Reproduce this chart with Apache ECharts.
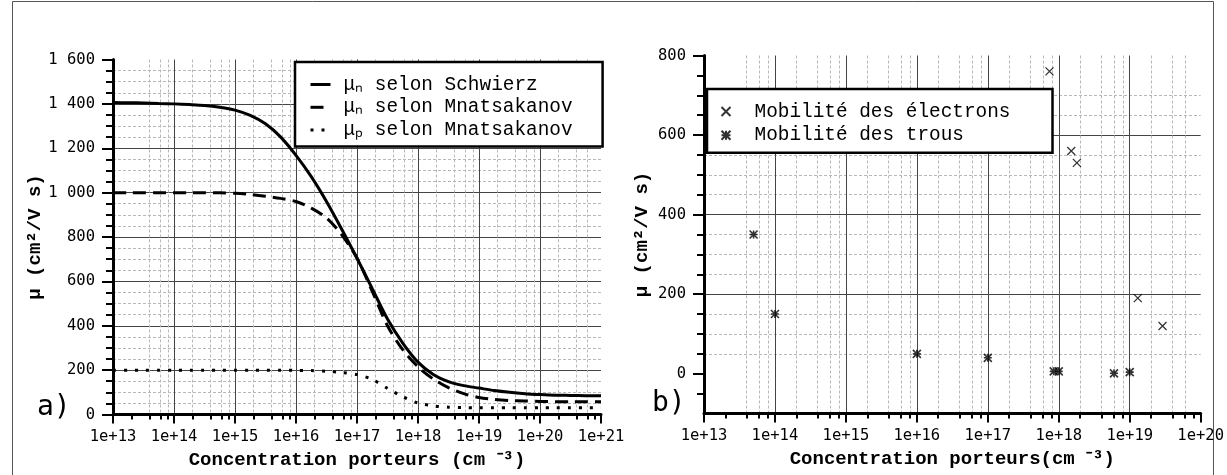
<!DOCTYPE html>
<html>
<head>
<meta charset="utf-8">
<script src="https://cdn.jsdelivr.net/npm/echarts@6/dist/echarts.min.js"></script>
<style>
html,body{margin:0;padding:0;background:#fff;}
#chart{width:1227px;height:475px;}
</style>
</head>
<body>
<div id="chart"></div>
<script>
// ---------- Panel a) : model curves (values read every quarter decade) ----------
const concA = [1e13, 1.78e13, 3.16e13, 5.62e13, 1e14, 1.78e14, 3.16e14, 5.62e14,
               1e15, 1.78e15, 3.16e15, 5.62e15, 1e16, 1.78e16, 3.16e16, 5.62e16,
               1e17, 1.78e17, 3.16e17, 5.62e17, 1e18, 1.78e18, 3.16e18, 5.62e18,
               1e19, 1.78e19, 3.16e19, 5.62e19, 1e20, 1.78e20, 3.16e20, 5.62e20, 1e21];
const muSchwierz = [1406, 1405, 1404, 1402, 1400, 1397, 1393, 1385,
                    1372, 1348, 1310, 1250, 1168, 1072, 960, 835,
                    704, 567, 430, 322, 236, 180, 148, 130,
                    119, 108, 100, 94, 90, 87, 86, 85, 84];
const muMnatN = [1000, 1000, 1000, 1000, 1000, 1000, 1000, 999,
                 997, 992, 984, 974, 960, 930, 886, 810,
                 705, 555, 400, 292, 215, 160, 121, 94,
                 77, 68, 63, 61, 59, 58, 58, 58, 58];
const muMnatP = [200, 200, 200, 200, 200, 200, 200, 200,
                 200, 200, 200, 200, 199, 198, 195, 189,
                 180, 158, 118, 80, 52, 39, 33, 31,
                 30, 30, 30, 30, 30, 30, 30, 30, 30];
const seriesNamesA = ['μₙ selon Schwierz', 'μₙ selon Mnatsakanov', 'μₚ selon Mnatsakanov'];

// ---------- Panel b) : measurements ----------
const concElectrons = [7.4e17, 1.5e18, 1.8e18, 1.3e19, 2.9e19];
const muElectrons   = [760, 560, 530, 190, 120];
const concHoles = [5e13, 1e14, 1e16, 1e17, 8.5e17, 1e18, 6e18, 1e19];
const muHoles   = [350, 150, 50, 40, 6, 6, 1, 4];
const seriesNamesB = ['Mobilité des électrons', 'Mobilité des trous'];

// ---------- Axis ticks ----------
const decadesA = [1e13, 1e14, 1e15, 1e16, 1e17, 1e18, 1e19, 1e20, 1e21];
const decadesB = [1e13, 1e14, 1e15, 1e16, 1e17, 1e18, 1e19, 1e20];
const minorMult = [2, 4, 6, 8];
const yTicksB = [0, 200, 400, 600, 800];
const yMinorB = [-50, 50, 100, 150, 250, 300, 350, 450, 500, 550, 650, 700, 750];

const xTitleA = 'Concentration porteurs (cm ⁻³)';
const xTitleB = 'Concentration porteurs(cm ⁻³)';
const yTitle = 'μ (cm²/V s)';

function minorOf(dec) {
  const out = [];
  for (let i = 0; i < dec.length - 1; i++) minorMult.forEach(m => out.push(dec[i] * m));
  return out;
}
// keep the top decade strictly inside the axis extent despite float rounding of log10
const inside = dec => dec.map((d, i) => i === dec.length - 1 ? d * 0.9999999 : d);
const pair = (xs, ys) => xs.map((x, i) => [x, ys[i]]);

const TICKFONT = 'DejaVu Sans Mono';
const TITLEFONT = 'Liberation Mono';
const majorGrid = {show: true, showMinLine: false, showMaxLine: false, lineStyle: {color: '#444', width: 1}};
const minorGrid = {show: true, showMinLine: false, showMaxLine: false, lineStyle: {color: '#b8b8b8', width: 1, type: [3, 2]}};
const axisLineStyle = {show: true, onZero: false, lineStyle: {color: '#000', width: 3}};
const tickLabel = {color: '#000', fontFamily: TICKFONT, fontSize: 15.5};
const nameStyle = {color: '#000', fontFamily: TITLEFONT, fontWeight: 'bold', fontSize: 19};
const logFmt = v => '1e+' + Math.round(Math.log10(v));
const spaceFmt = v => v >= 1000 ? Math.floor(v / 1000) + ' ' + String(v % 1000).padStart(3, '0') : String(v);

function xMajor(grid, dec, title) {
  const ticks = inside(dec);
  return {
    gridIndex: grid, type: 'log', logBase: 10, min: dec[0], max: dec[dec.length - 1],
    position: 'bottom',
    axisLine: axisLineStyle,
    axisTick: {show: true, customValues: ticks, length: 9, lineStyle: {color: '#000', width: 2}},
    axisLabel: {customValues: ticks, formatter: logFmt, margin: 14, showMaxLabel: true, showMinLabel: true, hideOverlap: false, ...tickLabel},
    splitLine: majorGrid,
    name: title, nameLocation: 'middle', nameGap: 36, nameTextStyle: nameStyle
  };
}
function xMinor(grid, dec) {
  return {
    gridIndex: grid, type: 'log', logBase: 10, min: dec[0], max: dec[dec.length - 1],
    position: 'bottom',
    axisLine: {show: false, onZero: false},
    axisTick: {show: true, customValues: minorOf(dec), length: 5, lineStyle: {color: '#000', width: 2}},
    axisLabel: {show: false},
    splitLine: minorGrid
  };
}

const option = {
  animation: false,
  backgroundColor: '#fff',
  graphic: [
    {type: 'rect', shape: {x: 12.5, y: 1.5, width: 1201, height: 480}, style: {fill: 'none', stroke: '#555', lineWidth: 1}, silent: true},
    {type: 'text', left: 37, top: 394, style: {text: 'a)', font: '28px "DejaVu Sans Mono"', fill: '#000'}},
    {type: 'text', left: 652, top: 390, style: {text: 'b)', font: '28px "DejaVu Sans Mono"', fill: '#000'}}
  ],
  grid: [
    {left: 113, top: 59.5, width: 488, height: 355},
    {left: 704, top: 55.5, width: 499, height: 358}
  ],
  xAxis: [
    xMajor(0, decadesA, xTitleA),
    xMinor(0, decadesA),
    xMajor(1, decadesB, xTitleB),
    xMinor(1, decadesB)
  ],
  yAxis: [
    {
      gridIndex: 0, type: 'value', min: 0, max: 1600, interval: 200, position: 'left',
      axisLine: axisLineStyle,
      axisTick: {show: true, length: 11, lineStyle: {color: '#000', width: 2}},
      minorTick: {show: true, splitNumber: 4, length: 7, lineStyle: {color: '#000', width: 2}},
      axisLabel: {formatter: spaceFmt, margin: 18, ...tickLabel},
      splitLine: majorGrid,
      minorSplitLine: {show: true, lineStyle: {color: '#b8b8b8', width: 1, type: [3, 2]}},
      name: yTitle, nameLocation: 'middle', nameGap: 68, nameTextStyle: nameStyle
    },
    {
      gridIndex: 1, type: 'value', min: -100, max: 800, position: 'left',
      axisLine: axisLineStyle,
      axisTick: {show: true, customValues: yTicksB, length: 11, lineStyle: {color: '#000', width: 2}},
      axisLabel: {customValues: yTicksB, margin: 18, ...tickLabel},
      splitLine: majorGrid,
      name: yTitle, nameLocation: 'middle', nameGap: 52, nameTextStyle: nameStyle
    },
    {
      gridIndex: 1, type: 'value', min: -100, max: 800, position: 'left',
      axisLine: {show: false, onZero: false},
      axisTick: {show: true, customValues: yMinorB, length: 7, lineStyle: {color: '#000', width: 2}},
      axisLabel: {show: false},
      splitLine: minorGrid
    }
  ],
  legend: [
    {
      data: seriesNamesA, orient: 'vertical', left: 295, top: 62,
      backgroundColor: '#fff', borderColor: '#000', borderWidth: 2.5, borderRadius: 0,
      padding: [13, 30, 7, 14], itemWidth: 20, itemHeight: 14, itemGap: 3.8,
      itemStyle: {opacity: 0},
      lineStyle: {width: 3},
      textStyle: {color: '#000', fontFamily: TITLEFONT, fontSize: 19.4, padding: [0, 0, 0, 8]}
    },
    {
      data: seriesNamesB, orient: 'vertical', left: 707, top: 89,
      backgroundColor: '#fff', borderColor: '#000', borderWidth: 2.5, borderRadius: 0,
      padding: [13, 42, 8, 12], itemWidth: 9, itemHeight: 9, itemGap: 4.8,
      textStyle: {color: '#000', fontFamily: TITLEFONT, fontSize: 19.4, padding: [0, 0, 0, 19]}
    }
  ],
  series: [
    {name: seriesNamesA[0], type: 'line', xAxisIndex: 0, yAxisIndex: 0, data: pair(concA, muSchwierz),
     symbol: 'none', smooth: 0.3, lineStyle: {color: '#000', width: 3, type: 'solid'}, itemStyle: {color: '#000'}, z: 3},
    {name: seriesNamesA[1], type: 'line', xAxisIndex: 0, yAxisIndex: 0, data: pair(concA, muMnatN),
     symbol: 'none', smooth: 0.3, lineStyle: {color: '#000', width: 3, type: [13, 7]}, itemStyle: {color: '#000'}, z: 4},
    {name: seriesNamesA[2], type: 'line', xAxisIndex: 0, yAxisIndex: 0, data: pair(concA, muMnatP),
     symbol: 'none', smooth: 0.3, lineStyle: {color: '#000', width: 3, type: [3, 8]}, itemStyle: {color: '#000'}, z: 4},
    {name: seriesNamesB[0], type: 'scatter', xAxisIndex: 2, yAxisIndex: 1, data: pair(concElectrons, muElectrons),
     symbol: 'path://M0,0L10,10M10,0L0,10', symbolSize: 8,
     itemStyle: {color: 'none', borderColor: '#000', borderWidth: 1.3}},
    {name: seriesNamesB[1], type: 'scatter', xAxisIndex: 2, yAxisIndex: 1, data: pair(concHoles, muHoles),
     symbol: 'path://M0,0L10,10M10,0L0,10M5,0L5,10M0,5L10,5', symbolSize: 8,
     itemStyle: {color: 'none', borderColor: '#000', borderWidth: 1.6}}
  ]
};

const chart = echarts.init(document.getElementById('chart'), null, {renderer: 'canvas'});
chart.setOption(option);
</script>
</body>
</html>
